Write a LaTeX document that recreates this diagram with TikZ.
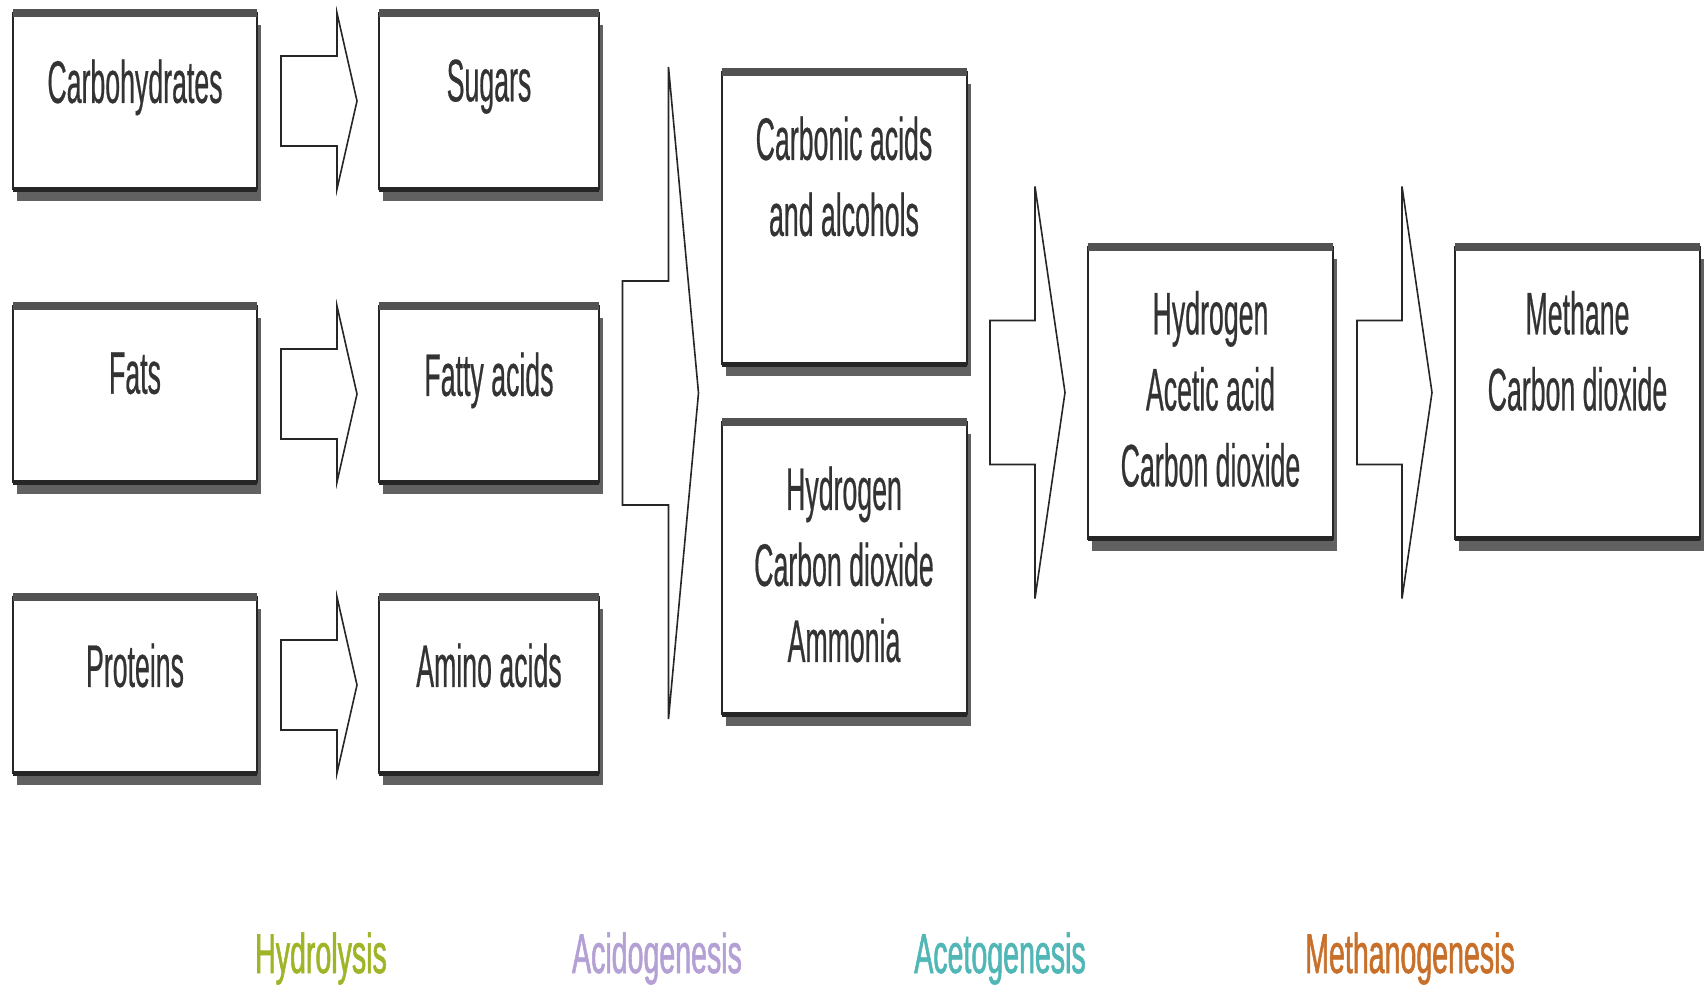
\documentclass[tikz,border=0pt]{standalone}
\usepackage{fontspec}
\usetikzlibrary{positioning, shadows, calc}

\newfontfamily\boxfont[FakeStretch=0.445, FakeBold=0.4]{Liberation Sans}
\newfontfamily\phasefont[FakeStretch=0.51, FakeBold=1]{Liberation Sans}

\definecolor{hydrocol}{RGB}{160,180,40}
\definecolor{acidocol}{RGB}{180,160,212}
\definecolor{acetocol}{RGB}{80,182,182}
\definecolor{methcol}{RGB}{200,112,42}

\begin{document}
\begin{tikzpicture}[
    x=0.5pt, y=-0.5pt,                      % pixel grid, y downwards
    stage/.style = {rectangle, draw=black!85, fill=white, line width=1pt,
                    inner sep=0pt, outer sep=0pt,
                    drop shadow={shadow xshift=2pt, shadow yshift=-6pt,
                                 fill=black!62, opacity=1}},
    small/.style = {stage, minimum width=#1pt, minimum height=88pt},
    tall/.style  = {stage, minimum width=122.5pt, minimum height=146pt},
    txt/.style   = {font=\boxfont\fontsize{30}{38}\selectfont,
                    text=black!80, align=center, inner sep=0pt},
    phase/.style = {font=\phasefont\fontsize{28}{34}\selectfont,
                    inner sep=0pt, anchor=base},
    flow/.style  = {draw=black!85, fill=white, line width=0.8pt,
                    line join=miter}
  ]
  \useasboundingbox (0,0) rectangle (1704,991);

  % hydrolysis inputs
  \node[small=122] (carb) at (135,101) {};
  \node[small=122] (fats) at (135,394) {};
  \node[small=122] (prot) at (135,685) {};
  % hydrolysis products
  \node[small=110] (sugar) at (489,101) {};
  \node[small=110] (fatty) at (489,394) {};
  \node[small=110] (amino) at (489,685) {};
  % acidogenesis products
  \node[tall] (acids) at (844,218) {};
  \node[tall] (gases) at (844,568) {};
  % acetogenesis / methanogenesis products
  \node[tall] (hac)  at (1210.5,392.5) {};
  \node[tall] (meth) at (1577.5,392.5) {};

  \foreach \n in {carb,fats,prot,sugar,fatty,amino,acids,gases,hac,meth} {
    \draw[line width=4pt, black!68] (\n.north west) -- (\n.north east);
    \draw[line width=2.5pt, black!85] (\n.south west) -- (\n.south east);
  }

  % box texts
  \node[txt, below=23pt of carb.north]  (carb-t)  {Carbohydrates};
  \node[txt, below=23pt of fats.north]  (fats-t)  {Fats};
  \node[txt, below=23pt of prot.north]  (prot-t)  {Proteins};
  \node[txt, below=23pt of sugar.north] (sugar-t) {Sugars};
  \node[txt, below=23pt of fatty.north] (fatty-t) {Fatty acids};
  \node[txt, below=23pt of amino.north] (amino-t) {Amino acids};
  \node[txt, below=22pt of acids.north] (acids-t) {Carbonic acids\\and alcohols};
  \node[txt, below=22pt of gases.north] (gases-t) {Hydrogen\\Carbon dioxide\\Ammonia};
  \node[txt, below=22pt of hac.north]   (hac-t)   {Hydrogen\\Acetic acid\\Carbon dioxide};
  \node[txt, below=22pt of meth.north]  (meth-t)  {Methane\\Carbon dioxide};

  % block arrows
  \foreach \t in {sugar,fatty,amino}
    \draw[flow, shift={(\t.west)}] (-98,-45) -- (-42,-45) -- (-42,-88) -- (-22,0)
        -- (-42,88) -- (-42,45) -- (-98,45) -- cycle;

  \coordinate (split) at ($(acids.south west)!0.5!(gases.north west)$);
  \draw[flow, shift={(split)}] (-99,-112) -- (-53,-112) -- (-53,-326) -- (-23,0)
      -- (-53,326) -- (-53,112) -- (-99,112) -- cycle;

  \foreach \t in {hac,meth}
    \draw[flow, shift={(\t.west)}] (-98,-72) -- (-53,-72) -- (-53,-206) -- (-23,0)
        -- (-53,206) -- (-53,72) -- (-98,72) -- cycle;

  % phase names
  \node[phase, text=hydrocol] (hydro)   at (321,973)  {Hydrolysis};
  \node[phase, text=acidocol] (acido)   at (657,973)  {Acidogenesis};
  \node[phase, text=acetocol] (aceto)   at (1000,973) {Acetogenesis};
  \node[phase, text=methcol]  (methano) at (1410,973) {Methanogenesis};

\end{tikzpicture}
\end{document}
